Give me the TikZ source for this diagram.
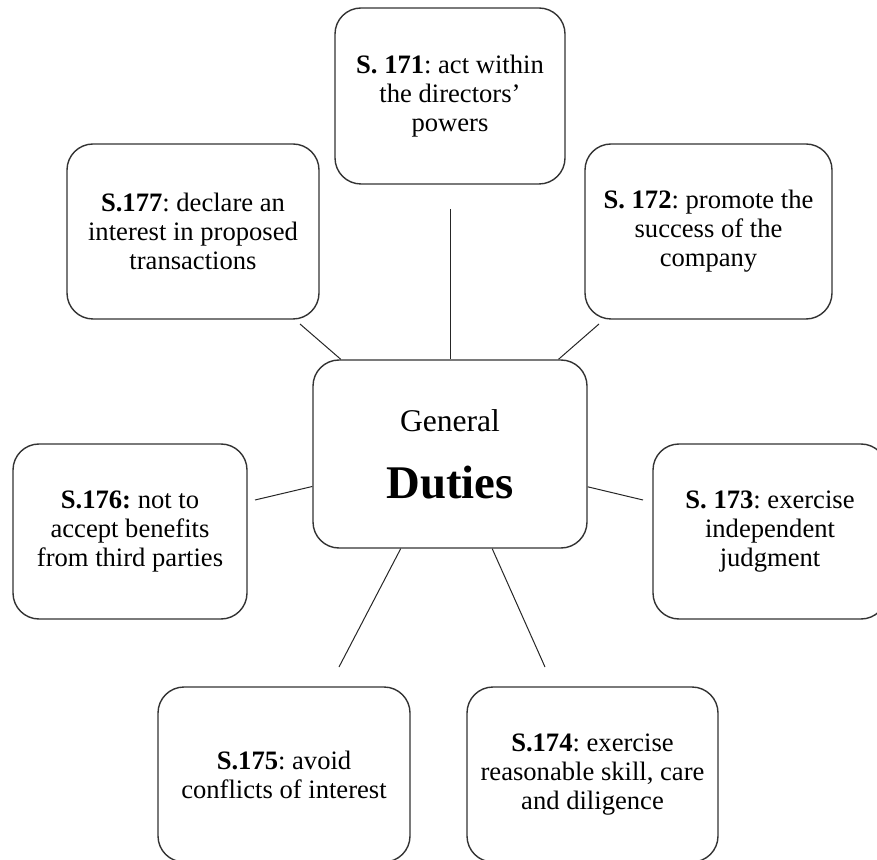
\documentclass[tikz,border=0pt]{standalone}
\usepackage{fontspec}
\setmainfont{Liberation Serif}
\frenchspacing
\begin{document}
\begin{tikzpicture}[x=0.5pt, y=-0.5pt,
  duty/.style={draw=black!80, line width=0.7pt, rounded corners=13pt,
    align=center, inner sep=0pt,
    font=\fontsize{13.3}{14.5}\selectfont},
  spoke/.style={draw=black!85, line width=0.5pt}]
  % page frame
  \useasboundingbox (0,0) rectangle (877,860);
  \clip (0,0) rectangle (877,860);

  % central box
  \node[duty, minimum width=137pt, minimum height=94pt,
        font=\fontsize{23.4}{33.5}\selectfont] (hub) at (450,454)
    {{\fontsize{15.8}{33.5}\selectfont General}\\{\bfseries Duties}};

  % the seven duties
  \node[duty, minimum width=115pt, minimum height=88pt] (d171) at (450,96)
    {\textbf{S. 171}: act within\\the directors’\\powers};
  \node[duty, minimum width=123.5pt, minimum height=87.5pt] (d172) at (708.5,231.5)
    {\textbf{S. 172}: promote the\\success of the\\company};
  \node[duty, minimum width=117pt, minimum height=87.5pt] (d173) at (770,531.5)
    {\textbf{S. 173}: exercise\\independent\\judgment};
  \node[duty, minimum width=125.5pt, minimum height=87.5pt] (d174) at (592.5,774.5)
    {\textbf{S.174}: exercise\\reasonable skill, care\\and diligence};
  \node[duty, minimum width=126pt, minimum height=87.5pt] (d175) at (284,774.5)
    {\textbf{S.175}: avoid\\conflicts of interest};
  \node[duty, minimum width=117pt, minimum height=87.5pt] (d176) at (130,531.5)
    {\textbf{S.176:} not to\\accept benefits\\from third parties};
  \node[duty, minimum width=126pt, minimum height=87.5pt] (d177) at (193,231.5)
    {\textbf{S.177}: declare an\\interest in proposed\\transactions};

  % free ends of the spokes, each a little short of its box
  \coordinate (e171) at (450,209);
  \coordinate (e172) at (599,324);
  \coordinate (e173) at (643,500);
  \coordinate (e174) at (545,667);
  \coordinate (e175) at (339,667);
  \coordinate (e176) at (255,500);
  \coordinate (e177) at (300,324);

  % spokes towards the central box
  \foreach \k in {171,172,173,174,175,176,177}
    \draw[spoke] (e\k) -- (hub);
\end{tikzpicture}
\end{document}
